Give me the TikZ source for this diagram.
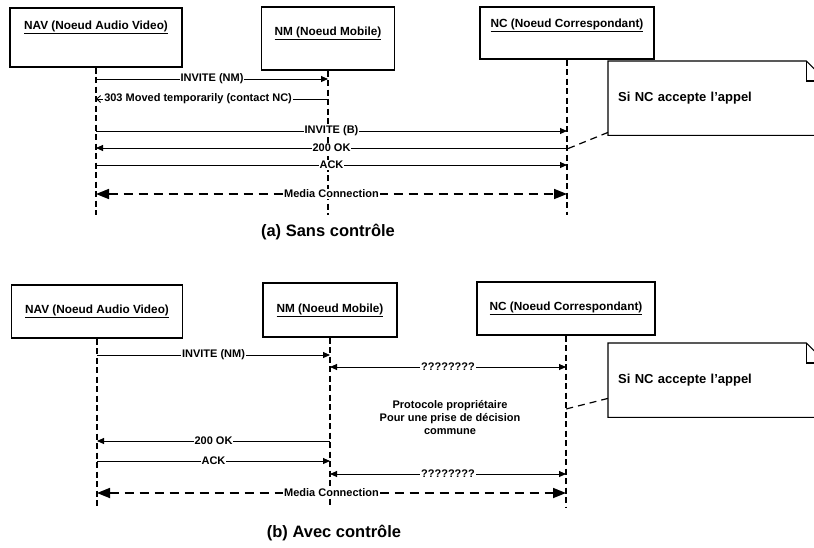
\documentclass[tikz,border=0pt]{standalone}
\usepackage{fontspec}
\setmainfont{Liberation Sans}
\usetikzlibrary{arrows.meta}

\begin{document}
\begin{tikzpicture}[x=1pt, y=-1pt, >={Triangle[length=7pt,width=6pt]},
    objet/.style={draw, line width=1.1pt, inner sep=0pt},
    nom/.style={font=\fontsize{11.8}{14}\selectfont\bfseries, inner sep=1pt},
    vie/.style={line width=1.6pt, dash pattern=on 6pt off 3.5pt},
    msg/.style={line width=0.9pt},
    lbl/.style={fill=white, inner sep=1pt, font=\fontsize{11}{13}\selectfont\bfseries},
    media/.style={line width=1.7pt, dash pattern=on 9pt off 6pt,
        {Triangle[length=13pt,width=10pt]}-{Triangle[length=13pt,width=10pt]}},
    note/.style={anchor=north west, minimum width=218, minimum height=74, text width=198,
        inner sep=10pt, align=left, font=\fontsize{13}{16}\selectfont\bfseries},
    lien/.style={line width=1.2pt, dash pattern=on 7pt off 5pt},
    titre/.style={font=\fontsize{16.5}{19}\selectfont\bfseries}]
    \useasboundingbox (0,0) rectangle (814,547);

    % (a) sans controle
    \node[objet, minimum width=172, minimum height=59] (nav1) at (96,37.5) {};
    \node[nom] (nav1t) at (96,27) {\underline{NAV (Noeud Audio Video)}};
    \node[objet, minimum width=133, minimum height=63] (nm1) at (328,38.5) {};
    \node[nom] (nm1t) at (328,33) {\underline{NM (Noeud Mobile)}};
    \node[objet, minimum width=174, minimum height=52] (nc1) at (567,33) {};
    \node[nom] (nc1t) at (567,25) {\underline{NC (Noeud Correspondant)}};

    \coordinate (nav1b) at (96,215);
    \coordinate (nm1b) at (328,215);
    \coordinate (nc1b) at (567,215);
    \foreach \o in {nav1, nm1, nc1}
        \draw[vie] (\o) -- (\o b);

    \draw[msg, ->] (nav1b |- 0,79) -- node[lbl] {INVITE (NM)} (nm1b |- 0,79);
    \draw[msg, -{Straight Barb[length=4pt,width=7pt]}] (nm1b |- 0,99)
        -- node[lbl, pos=0.56] {303 Moved temporarily (contact NC)} (nav1b |- 0,99);
    \draw[msg, ->] (nav1b |- 0,131) -- node[lbl] {INVITE (B)} (nc1b |- 0,131);
    \draw[msg, ->] (nc1b |- 0,148) -- node[lbl] {200 OK} (nav1b |- 0,148);
    \draw[msg, ->] (nav1b |- 0,165) -- node[lbl] {ACK} (nc1b |- 0,165);
    \draw[media] (nav1b |- 0,194) -- node[lbl] {Media Connection} (nc1b |- 0,194);

    \node[note] (note1) at (608,61) {Si NC accepte l'appel};
    \draw[line width=1.1pt] (note1.north west) -- ([xshift=-20pt]note1.north east)
        -- ([yshift=-20pt]note1.north east) -- (note1.south east) -- (note1.south west) -- cycle;
    \draw[line width=1.1pt] ([xshift=-20pt]note1.north east) |- ([yshift=-20pt]note1.north east);
    \draw[lien] ([yshift=3pt]note1.south west) -- (nc1b |- 0,149);

    \node[titre] (cap1) at (328,232) {(a) Sans contrôle};

    % (b) avec controle
    \node[objet, nom, minimum width=171, minimum height=53] (nav2) at (97,311.5) {\underline{NAV (Noeud Audio Video)}};
    \node[objet, nom, minimum width=134, minimum height=54] (nm2) at (330,310) {\underline{NM (Noeud Mobile)}};
    \node[objet, nom, minimum width=178, minimum height=53] (nc2) at (566,308.5) {\underline{NC (Noeud Correspondant)}};

    \coordinate (nav2b) at (97,508);
    \coordinate (nm2b) at (330,508);
    \coordinate (nc2b) at (566,508);
    \foreach \o in {nav2, nm2, nc2}
        \draw[vie] (\o) -- (\o b);

    \draw[msg, ->] (nav2b |- 0,355) -- node[lbl] {INVITE (NM)} (nm2b |- 0,355);
    \draw[msg, <->] (nm2b |- 0,367) -- node[lbl] {????????} (nc2b |- 0,367);
    \node[lbl, align=center] (proto) at (450,418)
        {Protocole propriétaire\\Pour une prise de décision\\commune};
    \draw[msg, ->] (nm2b |- 0,441) -- node[lbl] {200 OK} (nav2b |- 0,441);
    \draw[msg, ->] (nav2b |- 0,461) -- node[lbl] {ACK} (nm2b |- 0,461);
    \draw[msg, <->] (nm2b |- 0,474) -- node[lbl] {????????} (nc2b |- 0,474);
    \draw[media] (nav2b |- 0,493) -- node[lbl] {Media Connection} (nc2b |- 0,493);

    \node[note] (note2) at (608,343) {Si NC accepte l'appel};
    \draw[line width=1.1pt] (note2.north west) -- ([xshift=-20pt]note2.north east)
        -- ([yshift=-20pt]note2.north east) -- (note2.south east) -- (note2.south west) -- cycle;
    \draw[line width=1.1pt] ([xshift=-20pt]note2.north east) |- ([yshift=-20pt]note2.north east);
    \draw[lien] ([yshift=19pt]note2.south west) -- (nc2b |- 0,409);

    \node[titre] (cap2) at (334,533) {(b) Avec contrôle};
\end{tikzpicture}
\end{document}
